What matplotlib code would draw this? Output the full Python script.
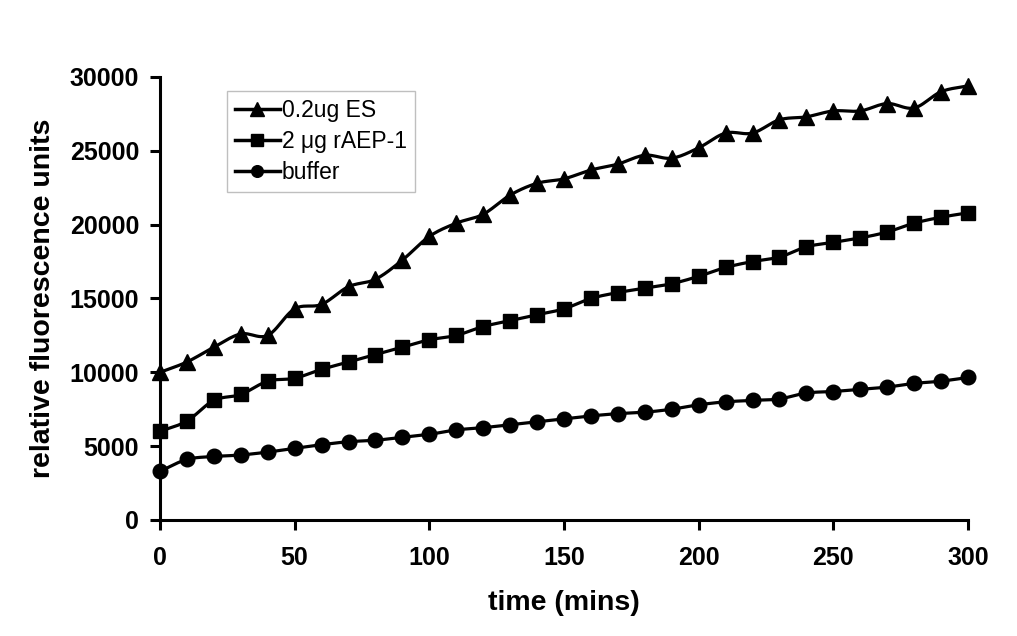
import numpy as np
import matplotlib
matplotlib.use("Agg")
import matplotlib.pyplot as plt

time_mins = [0, 10, 20, 30, 40, 50, 60, 70, 80, 90, 100, 110, 120, 130, 140, 150,
             160, 170, 180, 190, 200, 210, 220, 230, 240, 250, 260, 270, 280, 290, 300]
es_02ug = [10000, 10700, 11700, 12600, 12500, 14300, 14600, 15800, 16300, 17600,
           19200, 20100, 20700, 22000, 22800, 23100, 23700, 24100, 24700, 24500,
           25200, 26200, 26200, 27100, 27300, 27700, 27700, 28200, 27900, 29000, 29400]
raep1_2ug = [6000, 6700, 8100, 8500, 9400, 9600, 10200, 10700, 11200, 11700,
             12200, 12500, 13100, 13500, 13900, 14300, 15000, 15400, 15700, 16000,
             16500, 17100, 17500, 17800, 18500, 18800, 19100, 19500, 20100, 20500, 20800]
buffer_vals = [3300, 4100, 4300, 4400, 4600, 4850, 5100, 5300, 5400, 5600,
               5800, 6100, 6250, 6450, 6650, 6850, 7050, 7200, 7300, 7500,
               7800, 8000, 8100, 8200, 8600, 8700, 8850, 9000, 9250, 9400, 9650]
labels = ["0.2ug ES", "2 \u03bcg rAEP-1", "buffer"]
markers = ["^", "s", "o"]
x_ticks = [0, 50, 100, 150, 200, 250, 300]
y_ticks = [0, 5000, 10000, 15000, 20000, 25000, 30000]


def smooth(x, y, n=12):
    """Catmull-Rom curve through the points (display of a smoothed line)."""
    x = np.asarray(x, float)
    y = np.asarray(y, float)
    px = np.concatenate([[2 * x[0] - x[1]], x, [2 * x[-1] - x[-2]]])
    py = np.concatenate([[2 * y[0] - y[1]], y, [2 * y[-1] - y[-2]]])
    xs, ys = [], []
    t = np.linspace(0, 1, n, endpoint=False)
    for i in range(1, len(px) - 2):
        for arr, out in ((px, xs), (py, ys)):
            p0, p1, p2, p3 = arr[i - 1], arr[i], arr[i + 1], arr[i + 2]
            out.extend(0.5 * ((2 * p1) + (-p0 + p2) * t
                              + (2 * p0 - 5 * p1 + 4 * p2 - p3) * t ** 2
                              + (-p0 + 3 * p1 - 3 * p2 + p3) * t ** 3))
    xs.append(x[-1])
    ys.append(y[-1])
    return np.array(xs), np.array(ys)


plt.rcParams['font.family'] = ['Liberation Sans', 'DejaVu Sans']
fig = plt.figure(figsize=(10.17, 6.36), dpi=100)
ax = fig.add_axes([0.1573, 0.1824, 0.7945, 0.6966])

sizes = [12, 10.5, 10.5]
handles = []
for vals, lab, mk, ms in zip([es_02ug, raep1_2ug, buffer_vals], labels, markers, sizes):
    sx, sy = smooth(time_mins, vals)
    ax.plot(sx, sy, color='black', lw=2.3, clip_on=False, zorder=3)
    ax.plot(time_mins, vals, linestyle='none', marker=mk, ms=ms, color='black',
            clip_on=False, zorder=4)
    h, = ax.plot([], [], color='black', lw=2.5, marker=mk, ms=ms * 0.8)
    handles.append(h)

ax.set_xlim(0, 300)
ax.set_ylim(0, 30000)
ax.set_xticks(x_ticks)
ax.set_yticks(y_ticks)
for s in ['top', 'right']:
    ax.spines[s].set_visible(False)
for s in ['left', 'bottom']:
    ax.spines[s].set_linewidth(2.2)
ax.tick_params(axis='both', direction='out', length=7, width=2.2, labelsize=18)
ax.tick_params(axis='x', pad=12)
ax.tick_params(axis='y', pad=8)
for lbl in ax.get_xticklabels() + ax.get_yticklabels():
    lbl.set_fontweight('bold')
ax.set_xlabel("time (mins)", fontsize=20.5, fontweight='bold', labelpad=14)
ax.set_ylabel("relative fluorescence units", fontsize=20.5, fontweight='bold', labelpad=10)

leg = ax.legend(handles, labels, loc='upper left', bbox_to_anchor=(0.083, 0.968),
                fontsize=16.5, frameon=True, fancybox=False, edgecolor='#b0b0b0',
                handlelength=1.95, handletextpad=0.1, labelspacing=0.35,
                borderpad=0.35, borderaxespad=0)
leg.get_frame().set_linewidth(1.0)

fig.savefig("out.png", dpi=100)
